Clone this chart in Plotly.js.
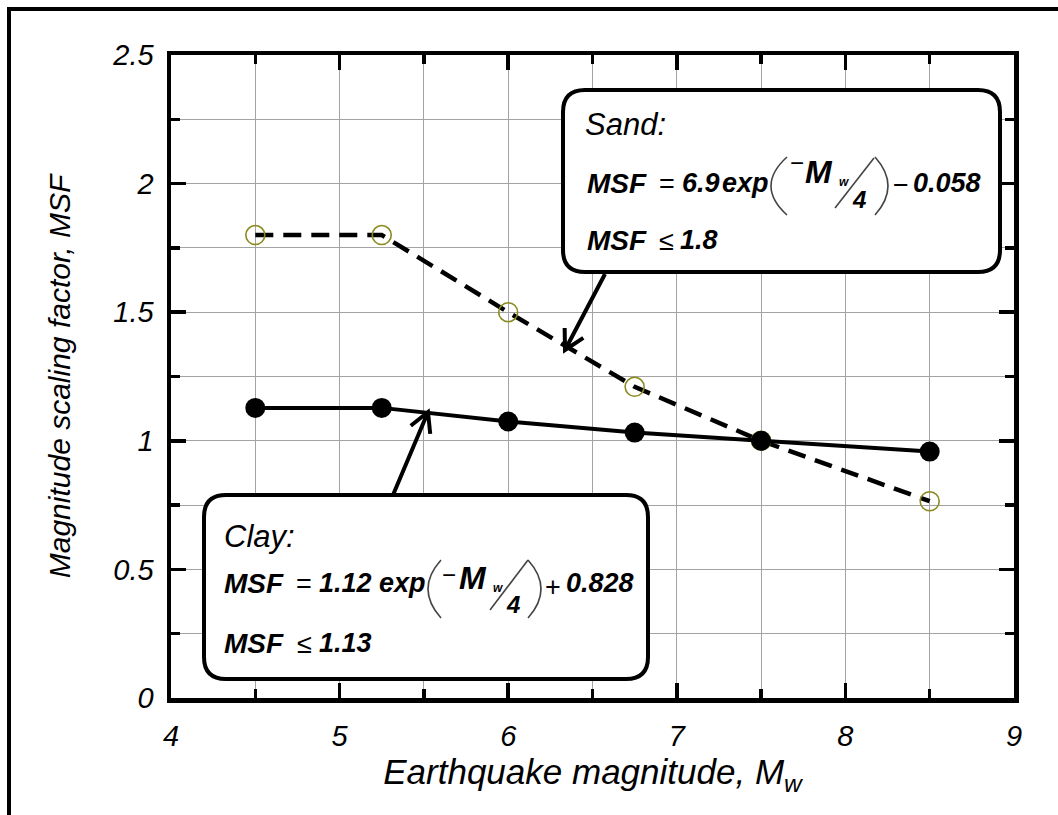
<!DOCTYPE html>
<html>
<head>
<meta charset="utf-8">
<script src="https://cdn.plot.ly/plotly-3.0.1.min.js"></script>
<style>html,body{margin:0;padding:0;background:#fff;}#chart{width:1058px;height:815px;}</style>
</head>
<body>
<div id="chart"></div>
<script>
// ---- data ----
const magnitudes = [4.5, 5.25, 6.0, 6.75, 7.5, 8.5];
const sandMSF = [1.80, 1.80, 1.50, 1.21, 1.00, 0.765];
const clayMSF = [1.128, 1.128, 1.075, 1.032, 1.00, 0.958];
const xTickVals = [4, 5, 6, 7, 8, 9];
const yTickVals = [0, 0.5, 1, 1.5, 2, 2.5];
const yTickText = ['0', '0.5', '1', '1.5', '2', '2.5'];

// ---- layout helpers (pixel -> paper) ----
const L = 171, R = 1014, T = 55, B = 698;
const W = R - L, H = B - T;
const px = x => (x - L) / W;
const py = y => (B - y) / H;
const P = (x, y) => px(x) + ',' + py(y);
const FONT = 'Liberation Sans, Arial, sans-serif';

function txt(s, x, y, size, opts) {
  opts = opts || {};
  return {
    text: s, xref: 'paper', yref: 'paper', x: px(x), y: py(y),
    xanchor: 'left', yanchor: 'middle', showarrow: false,
    font: {family: FONT, size: size, color: opts.color || '#000', style: opts.style || 'normal'},
    borderpad: 0
  };
}
function rrect(x0, y0, x1, y1, r) {
  return 'M' + P(x0 + r, y0) + ' L' + P(x1 - r, y0) + ' Q' + P(x1, y0) + ' ' + P(x1, y0 + r) +
    ' L' + P(x1, y1 - r) + ' Q' + P(x1, y1) + ' ' + P(x1 - r, y1) +
    ' L' + P(x0 + r, y1) + ' Q' + P(x0, y1) + ' ' + P(x0, y1 - r) +
    ' L' + P(x0, y0 + r) + ' Q' + P(x0, y0) + ' ' + P(x0 + r, y0) + ' Z';
}
function arrowPath(x0, y0, x1, y1, head, ang) {
  const a = Math.atan2(y0 - y1, x0 - x1);
  const h1 = [x1 + head * Math.cos(a + ang), y1 + head * Math.sin(a + ang)];
  const h2 = [x1 + head * Math.cos(a - ang), y1 + head * Math.sin(a - ang)];
  return 'M' + P(x0, y0) + ' L' + P(x1, y1) + ' M' + P(h1[0], h1[1]) + ' L' + P(x1, y1) + ' L' + P(h2[0], h2[1]);
}
function pathShape(path, w, c, fill) {
  const s = {type: 'path', xref: 'paper', yref: 'paper', path: path, line: {color: c || '#000', width: w}, layer: 'above'};
  if (fill) s.fillcolor = fill;
  return s;
}
function paren(xEnd, yTop, yBot, xBulge) {
  const ctrl = 2 * xBulge - xEnd;
  return 'M' + P(xEnd, yTop) + ' Q' + P(ctrl, (yTop + yBot) / 2) + ' ' + P(xEnd, yBot);
}

const traces = [
  {
    x: magnitudes, y: sandMSF, type: 'scatter', mode: 'lines+markers', name: 'Sand',
    line: {color: '#000', width: 4.5, dash: '18px,10px'},
    marker: {symbol: 'circle-open', size: 19, color: '#8a8a1e', line: {width: 1.6, color: '#8a8a1e'}},
    cliponaxis: false
  },
  {
    x: magnitudes, y: clayMSF, type: 'scatter', mode: 'lines+markers', name: 'Clay',
    line: {color: '#000', width: 4},
    marker: {symbol: 'circle', size: 20, color: '#000'},
    cliponaxis: false
  }
];

const bold = s => '<b><i>' + s + '</i></b>';
const annotations = [
  // Sand box text
  txt('Sand:', 584, 124, 31, {style: 'italic'}),
  txt(bold('MSF'), 586, 183, 28),
  txt('=', 658, 184, 27),
  txt(bold('6.9'), 681, 183, 27),
  txt(bold('exp'), 721, 183, 27),
  txt('−', 789, 163, 24),
  txt(bold('M'), 804, 172, 32),
  txt(bold('w'), 838, 182, 12),
  txt(bold('4'), 851, 200, 24),
  txt('−', 892, 185, 27),
  txt(bold('0.058'), 912, 183, 27),
  txt(bold('MSF'), 586, 240, 28),
  txt('≤', 658, 241, 27),
  txt(bold('1.8'), 679, 240, 27),
  // Clay box text
  txt('Clay:', 223, 536, 31, {style: 'italic'}),
  txt(bold('MSF'), 223, 583, 28),
  txt('=', 295, 584, 27),
  txt(bold('1.12'), 318, 583, 27),
  txt(bold('exp'), 378, 583, 27),
  txt('−', 441, 574, 24),
  txt(bold('M'), 458, 578, 32),
  txt(bold('w'), 492, 588, 12),
  txt(bold('4'), 505, 604, 24),
  txt('+', 544, 587, 27),
  txt(bold('0.828'), 565, 583, 27),
  txt(bold('MSF'), 223, 643, 28),
  txt('≤', 296, 644, 27),
  txt(bold('1.13'), 318, 643, 27)
];

const shapes = [
  pathShape('M' + P(9, 830) + ' L' + P(9, 9) + ' L' + P(1070, 9), 4),
  pathShape(rrect(563, 90, 1000, 272, 22), 4, '#000', '#fff'),
  pathShape(rrect(204, 495, 648, 679, 22), 4, '#000', '#fff'),
  pathShape(arrowPath(605, 274, 565, 350, 22, 0.5), 4),
  pathShape(arrowPath(393, 495, 428, 412, 22, 0.5), 4),
  pathShape(paren(787, 157, 215, 771), 1.6, '#444'),
  pathShape(paren(875, 157, 215, 888), 1.6, '#444'),
  pathShape('M' + P(835, 208) + ' L' + P(874, 158), 1.6, '#444'),
  pathShape(paren(441, 560, 618, 428), 1.6, '#444'),
  pathShape(paren(528, 560, 618, 541), 1.6, '#444'),
  pathShape('M' + P(490, 610) + ' L' + P(528, 560), 1.6, '#444')
];

const axisCommon = {
  showline: true, linecolor: '#000', linewidth: 4.5, mirror: 'ticks',
  ticks: 'inside', ticklen: 15, tickwidth: 3.5, tickcolor: '#000',
  showgrid: true, gridcolor: '#a3a3a3', gridwidth: 1, zeroline: false,
  tickfont: {family: FONT, size: 29, color: '#000', style: 'italic'},
  fixedrange: true
};

const layout = {
  width: 1058, height: 815,
  margin: {l: L, r: 1058 - R, t: T, b: 815 - B, pad: 0},
  paper_bgcolor: '#fff', plot_bgcolor: '#fff',
  showlegend: false,
  xaxis: Object.assign({}, axisCommon, {
    range: [4, 9], tickmode: 'array', tickvals: xTickVals,
    minor: {dtick: 0.5, ticklen: 9, tickwidth: 3.5, tickcolor: '#000', ticks: 'inside', showgrid: true, gridcolor: '#a3a3a3', gridwidth: 1},
    ticklabelstandoff: 9,
    title: {text: 'Earthquake magnitude, M<sub>w</sub>', font: {family: FONT, size: 35, color: '#000', style: 'italic'}, standoff: 0}
  }),
  yaxis: Object.assign({}, axisCommon, {
    range: [0, 2.5], tickmode: 'array', tickvals: yTickVals, ticktext: yTickText,
    minor: {dtick: 0.25, ticklen: 9, tickwidth: 3.5, tickcolor: '#000', ticks: 'inside', showgrid: true, gridcolor: '#a3a3a3', gridwidth: 1},
    ticklabelstandoff: 7,
    title: {text: 'Magnitude scaling factor, MSF', font: {family: FONT, size: 30, color: '#000', style: 'italic'}, standoff: 34}
  }),
  annotations: annotations,
  shapes: shapes
};

Plotly.newPlot('chart', traces, layout, {staticPlot: true, displayModeBar: false});
</script>
</body>
</html>
